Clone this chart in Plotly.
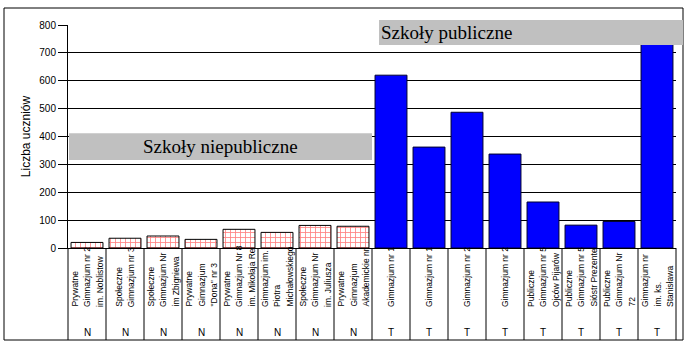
import plotly.graph_objects as go

# ---- data ----
label_lines = [
    ["Prywatne", "Gimnazjum nr 2", "im. Noblistow"],
    ["Społeczne", "Gimnazjum nr 3"],
    ["Społeczne", "Gimnazjum Nr", "im Zbigniewa"],
    ["Prywatne", "Gimnazjum", "\"Dona\" nr 3"],
    ["Prywatne", "Gimnazjum Nr 8", "im. Mikołaja Re"],
    ["Gimnazjum im.", "Piotra", "Michałowskiego"],
    ["Społeczne", "Gimnazjum Nr", "im. Juliusza"],
    ["Prywatne", "Gimnazjum", "Akademickie nr"],
    ["Gimnazjum nr 1"],
    ["Gimnazjum nr 1"],
    ["Gimnazjum nr 2"],
    ["Gimnazjum nr 2"],
    ["Publiczne", "Gimnazjum nr 5", "Ojców Pijarów"],
    ["Publiczne", "Gimnazjum nr 5", "Sióstr Prezente"],
    ["Publiczne", "Gimnazjum Nr", "72"],
    ["Gimnazjum nr", "im. ks.", "Stanisława"],
]
school_type = ["N", "N", "N", "N", "N", "N", "N", "N",
               "T", "T", "T", "T", "T", "T", "T", "T"]
students = [20, 35, 43, 31, 67, 56, 81, 78,
            620, 362, 487, 337, 165, 82, 95, 780]
y_ticks = [0, 100, 200, 300, 400, 500, 600, 700, 800]
y_title = "Liczba uczniów"
box_private_text = "Szkoły niepubliczne"
box_public_text = "Szkoły publiczne"
box_private_range = [316, 412]

# ---- layout geometry (pixels) ----
W, H = 700, 350
L, R, T, B = 68, 676, 25, 248
pw, ph = R - L, B - T


def px_x(x):
    return (x - L) / pw


def px_y(y):
    return (B - y) / ph


n = len(students)
x_idx = list(range(n))
priv_x = [i for i in x_idx if school_type[i] == "N"]
pub_x = [i for i in x_idx if school_type[i] == "T"]

fig = go.Figure()
fig.add_trace(go.Bar(
    x=priv_x, y=[students[i] for i in priv_x],
    marker=dict(color="white", line=dict(color="black", width=1),
                pattern=dict(shape="+", fgcolor="#FF0000", bgcolor="white",
                             size=5, solidity=0.3, fillmode="overlay")),
    showlegend=False, hoverinfo="skip"))
fig.add_trace(go.Bar(
    x=pub_x, y=[students[i] for i in pub_x],
    marker=dict(color="#0000FF", line=dict(color="#000030", width=1)),
    showlegend=False, hoverinfo="skip"))

shapes = []
# outer frame
shapes.append(dict(type="rect", xref="paper", yref="paper",
                   x0=px_x(4), x1=px_x(683), y0=px_y(340), y1=px_y(8),
                   line=dict(color="black", width=1), layer="below"))
# category dividers in the label area
for k in range(n + 1):
    shapes.append(dict(type="line", xref="paper", yref="paper",
                       x0=k / n, x1=k / n, y0=0, y1=px_y(340),
                       line=dict(color="black", width=1)))
# gray label boxes
y0p = box_private_range[0] / 800
y1p = box_private_range[1] / 800
shapes.append(dict(type="rect", xref="paper", yref="paper",
                   x0=px_x(69), x1=0.5, y0=y0p, y1=y1p,
                   fillcolor="#C0C0C0", line=dict(width=0), layer="above"))
shapes.append(dict(type="rect", xref="paper", yref="paper",
                   x0=px_x(379), x1=px_x(683), y0=px_y(45), y1=px_y(20),
                   fillcolor="#C0C0C0", line=dict(width=0), layer="above"))

annotations = []
lab_font = dict(family="Liberation Sans, Arial", size=8.5, color="black")
for i, lines in enumerate(label_lines):
    m = len(lines)
    for j, line in enumerate(lines):
        annotations.append(dict(
            x=i, xref="x", y=px_y(308), yref="paper", text=line,
            textangle=-90, xanchor="center", yanchor="bottom",
            xshift=(j - (m - 1) / 2) * 12.5, showarrow=False,
            font=lab_font, borderpad=0))
    annotations.append(dict(
        x=i, xref="x", y=px_y(332), yref="paper", text=school_type[i],
        xanchor="center", yanchor="middle", showarrow=False,
        font=dict(family="Liberation Sans, Arial", size=10, color="black")))

annotations.append(dict(
    x=0.25, xref="paper", y=(y0p + y1p) / 2, yref="paper",
    text=box_private_text, showarrow=False, xanchor="center", yanchor="middle",
    font=dict(family="Liberation Serif, Times New Roman", size=19, color="black")))
annotations.append(dict(
    x=px_x(379), xref="paper", y=(px_y(45) + px_y(20)) / 2, yref="paper",
    text=box_public_text, showarrow=False, xanchor="left", yanchor="middle",
    font=dict(family="Liberation Serif, Times New Roman", size=19, color="black")))

fig.update_layout(
    width=W, height=H,
    margin=dict(l=L, r=W - R, t=T, b=H - B, autoexpand=False),
    paper_bgcolor="white", plot_bgcolor="white",
    barmode="overlay", bargap=0.16,
    shapes=shapes, annotations=annotations,
    font=dict(family="Liberation Sans, Arial", color="black"),
    xaxis=dict(range=[-0.5, n - 0.5], showticklabels=False, ticks="",
               showgrid=False, zeroline=False, showline=True,
               linecolor="black", linewidth=1, fixedrange=True),
    yaxis=dict(range=[0, 800], tickvals=y_ticks, ticks="outside", ticklen=9,
               tickcolor="black", showgrid=True, gridcolor="black",
               gridwidth=1, zeroline=False, showline=True, linecolor="black",
               linewidth=1, tickfont=dict(size=10, color="black"),
               title=dict(text=y_title, font=dict(size=12, color="black"),
                          standoff=6), fixedrange=True),
)

fig.write_html("out.html")
